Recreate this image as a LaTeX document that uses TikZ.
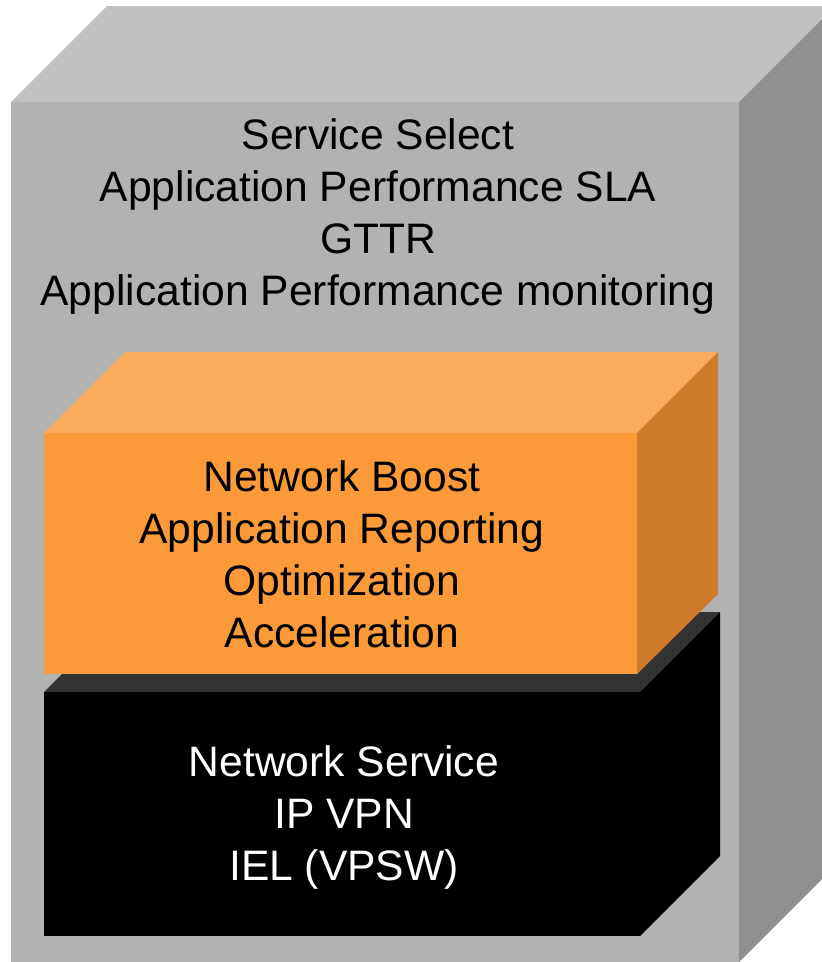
\documentclass[tikz,border=0pt]{standalone}
\usepackage{fontspec}
\setmainfont{Liberation Sans}
\definecolor{gtop}{HTML}{C0C0C0}
\definecolor{gfront}{HTML}{B2B2B2}
\definecolor{gside}{HTML}{8F8F8F}
\definecolor{otop}{HTML}{FBAB5E}
\definecolor{ofront}{HTML}{FA9A38}
\definecolor{oside}{HTML}{CD7B28}
\definecolor{btop}{HTML}{333333}
\begin{document}
\begin{tikzpicture}[x=1pt,y=-1pt,
  lbl/.style={align=center,inner sep=0pt,font=\fontsize{42.6}{52}\selectfont}]
\useasboundingbox (0,0) rectangle (822,962);
% outer gray box
\fill[gtop] (11,102) -- (107,6) -- (835,6) -- (739,102) -- cycle;
\fill[gside] (739,102) -- (835,6) -- (835,866) -- (739,962) -- cycle;
\fill[gfront] (11,102) rectangle (739,962);
% black box
\fill[btop] (44,692) -- (124,612) -- (720,612) -- (640,692) -- cycle;
\fill[black] (640,692) -- (720,612) -- (720,856) -- (640,936) -- cycle;
\fill[black] (44,692) rectangle (640,936);
% orange box
\fill[otop] (44,433) -- (125,352) -- (718,352) -- (637,433) -- cycle;
\fill[oside] (637,433) -- (718,352) -- (718,594) -- (637,674) -- cycle;
\fill[ofront] (44,433) rectangle (637,674);
% texts
\node[lbl] (top) at (378,216) {Service Select\\Application Performance SLA\\GTTR\\Application Performance monitoring};
\node[lbl] (mid) at (342,554) {Network Boost\\Application Reporting\\Optimization\\Acceleration};
\node[lbl,text=white] (bot) at (344,817) {Network Service\\IP VPN\\IEL (VPSW)};
\end{tikzpicture}
\end{document}
